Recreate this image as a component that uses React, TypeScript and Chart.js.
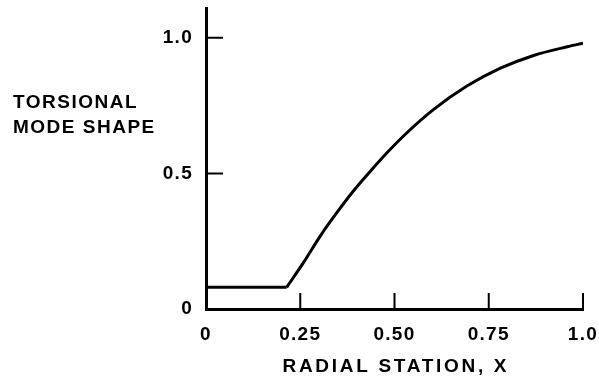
import React, { useEffect, useRef } from "react";
import { Chart, registerables } from "chart.js";

Chart.register(...registerables);

// Data
const xValues = [0, 0.214, 0.258, 0.303, 0.347, 0.391, 0.436, 0.48, 0.533, 0.604, 0.692, 0.781, 0.869, 0.958, 1.0];
const modeShape = [0.08, 0.08, 0.17, 0.269, 0.355, 0.435, 0.508, 0.576, 0.65, 0.736, 0.822, 0.888, 0.935, 0.967, 0.98];
const flatEndIndex = 1; // the flat root segment ends at this point

const xTickValues = [0, 0.25, 0.5, 0.75, 1.0];
const xTickLabels = ["0", "0.25", "0.50", "0.75", "1.0"];
const yTickValues = [0, 0.5, 1.0];
const yTickLabels = ["0", "0.5", "1.0"];
const xMarkValues = [0.25, 0.5, 0.75, 1.0];
const yMarkValues = [0.5, 1.0];

const yTitleLines = ["TORSIONAL", "MODE SHAPE"];
const xTitle = "RADIAL STATION, X";

const FONT = '"Liberation Sans", Arial, Helvetica, sans-serif';

const points = xValues.map((x, i) => ({ x, y: modeShape[i] }));

const decorPlugin = {
  id: "decor",
  beforeLayout(chart: any) {
    chart.ctx.letterSpacing = "1.3px";
  },
  beforeDraw(chart: any) {
    chart.ctx.letterSpacing = "1.3px";
  },
  afterDraw(chart: any) {
    const { ctx, chartArea, scales } = chart;
    ctx.save();
    ctx.strokeStyle = "#000";
    ctx.lineWidth = 2;
    ctx.beginPath();
    for (const v of yMarkValues) {
      const y = scales.y.getPixelForValue(v);
      ctx.moveTo(chartArea.left, y);
      ctx.lineTo(chartArea.left + 17, y);
    }
    for (const v of xMarkValues) {
      const x = scales.x.getPixelForValue(v);
      ctx.moveTo(x, chartArea.bottom);
      ctx.lineTo(x, chartArea.bottom - 16);
    }
    ctx.stroke();

    ctx.fillStyle = "#000";
    ctx.font = `bold 19px ${FONT}`;
    ctx.textBaseline = "alphabetic";
    ctx.textAlign = "left";
    ctx.letterSpacing = "1.5px";
    yTitleLines.forEach((t, i) => ctx.fillText(t, 13, 108 + i * 24.5));

    ctx.letterSpacing = "2.7px";
    ctx.textAlign = "center";
    ctx.fillText(xTitle, (chartArea.left + chartArea.right) / 2 + 1.35, 372);
    ctx.restore();
  },
};

export default function App() {
  const canvasRef = useRef<HTMLCanvasElement | null>(null);

  useEffect(() => {
    const canvas = canvasRef.current;
    if (!canvas) return;
    const chart = new Chart(canvas, {
      type: "line",
      data: {
        datasets: [
          {
            data: points.slice(0, flatEndIndex + 1),
            borderColor: "#000",
            borderWidth: 3,
            pointRadius: 0,
            fill: false,
            tension: 0,
          },
          {
            data: points.slice(flatEndIndex),
            borderColor: "#000",
            borderWidth: 3,
            pointRadius: 0,
            fill: false,
            cubicInterpolationMode: "monotone",
          },
        ],
      },
      options: {
        responsive: false,
        animation: false,
        events: [],
        layout: { padding: { top: 8, right: 16, bottom: 0, left: 0 } },
        plugins: {
          legend: { display: false },
          tooltip: { enabled: false },
          title: { display: false },
        },
        scales: {
          x: {
            type: "linear",
            min: 0,
            max: 1,
            afterBuildTicks: (scale: any) => {
              scale.ticks = xTickValues.map((v) => ({ value: v }));
            },
            afterFit: (scale: any) => {
              scale.height = 74;
              scale.paddingLeft = 0;
              scale.paddingRight = 0;
              scale.paddingTop = 0;
              scale.paddingBottom = 0;
            },
            ticks: {
              autoSkip: false,
              maxRotation: 0,
              color: "#000",
              padding: 14,
              font: { family: FONT, size: 19, weight: "bold" },
              callback: (_v: any, i: number) => xTickLabels[i],
            },
            grid: { drawOnChartArea: false, drawTicks: false },
            border: { color: "#000", width: 3 },
          },
          y: {
            type: "linear",
            min: 0,
            max: 1.11,
            afterBuildTicks: (scale: any) => {
              scale.ticks = yTickValues.map((v) => ({ value: v }));
            },
            afterFit: (scale: any) => {
              scale.width = 206;
              scale.paddingLeft = 0;
              scale.paddingRight = 0;
              scale.paddingTop = 0;
              scale.paddingBottom = 0;
            },
            ticks: {
              autoSkip: false,
              color: "#000",
              padding: 13,
              font: { family: FONT, size: 19, weight: "bold" },
              callback: (_v: any, i: number) => yTickLabels[i],
            },
            grid: { drawOnChartArea: false, drawTicks: false },
            border: { color: "#000", width: 3 },
          },
        },
      },
      plugins: [decorPlugin],
    });
    return () => chart.destroy();
  }, []);

  return (
    <div style={{ position: "fixed", left: 0, top: 0, width: 599, height: 383, background: "#fff" }}>
      <canvas ref={canvasRef} width={599} height={383} />
    </div>
  );
}
